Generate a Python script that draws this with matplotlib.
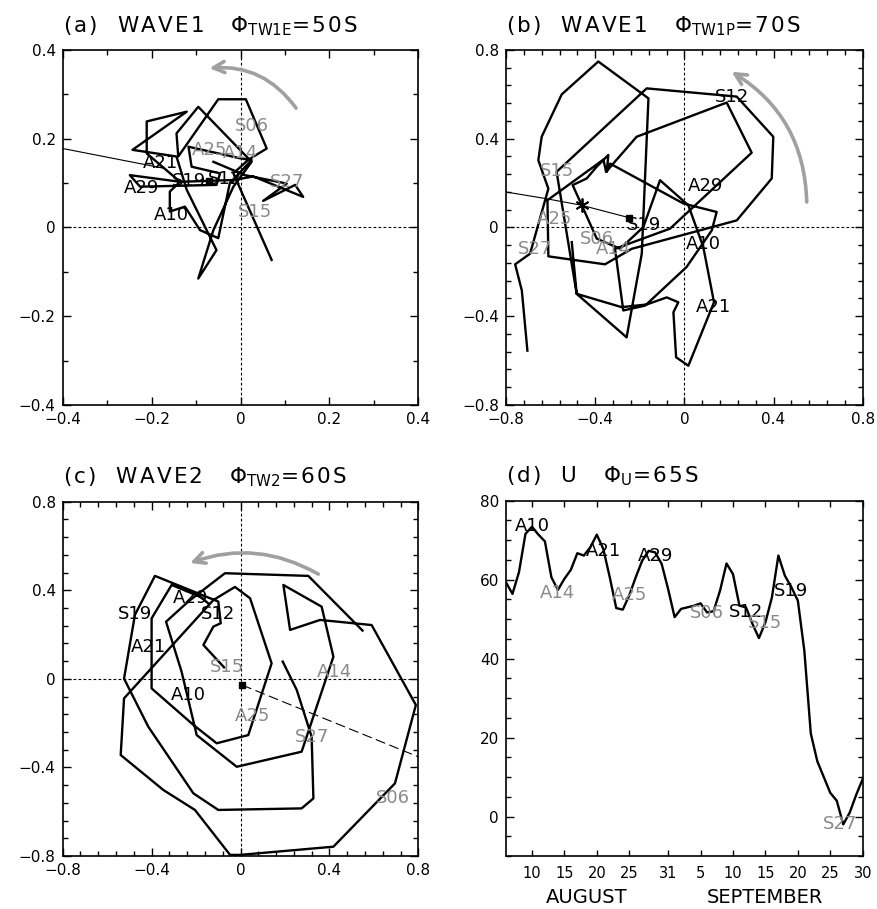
import numpy as np
import matplotlib
matplotlib.use("Agg")
import matplotlib.pyplot as plt
from matplotlib.ticker import MultipleLocator, FixedLocator

plt.rcParams["font.family"] = ["DejaVu Sans"]
plt.rcParams["mathtext.default"] = "regular"

nan = np.nan
GRAY = "#8a8a8a"
dark = {"A10", "A21", "A29", "S12", "S19"}

# ---- (a) wave1, 50S ----
a_x = [-0.061, 0.010, 0.104, 0.051, 0.123, 0.141, 0.029, -0.016, -0.136, -0.249,
       -0.226, -0.054, -0.046, -0.110, -0.117, -0.001, 0.025, -0.024, -0.050, -0.091,
       -0.125, -0.159, -0.159, -0.136, -0.211, -0.211, -0.121, -0.243, -0.144, -0.121,
       -0.054, -0.095, -0.061, -0.016, 0.025, -0.095, -0.144, -0.140, -0.050, 0.012,
       0.059, 0.018, -0.016, 0.070]
a_y = [0.148, 0.118, 0.099, 0.060, 0.096, 0.069, 0.115, 0.107, 0.103, 0.118,
       0.092, 0.096, 0.122, 0.137, 0.182, 0.156, 0.152, 0.100, -0.024, -0.006,
       0.047, 0.036, 0.081, 0.103, 0.167, 0.239, 0.261, 0.175, 0.160, 0.085,
       -0.051, -0.115, -0.006, 0.092, 0.148, 0.272, 0.212, 0.160, 0.289, 0.289,
       0.178, 0.153, 0.122, -0.073]
a_thin_x = [-0.4, -0.17]
a_thin_y = [0.178, 0.133]
a_square = (-0.07, 0.105)
a_lab = ["S06", "A25", "A14", "A21", "A29", "S19", "S12", "A10", "S27", "S15"]
a_lab_x = [0.025, -0.069, -0.001, -0.181, -0.222, -0.115, -0.035, -0.155, 0.104, 0.032]
a_lab_y = [0.229, 0.175, 0.167, 0.145, 0.090, 0.105, 0.110, 0.028, 0.103, 0.036]

# ---- (b) wave1, 70S ----
b_x = [-0.505, -0.483, -0.281, -0.169, -0.079, -0.027, -0.049, -0.037, 0.018, 0.133,
       0.085, 0.018, -0.109, -0.184, -0.288, -0.393, -0.460, -0.501, -0.438, -0.393,
       -0.341, -0.348, -0.333, -0.004, 0.145, 0.123, 0.010, -0.176, -0.274, -0.311,
       -0.064, 0.302, 0.190, -0.214, -0.351, -0.363, -0.614, -0.610, -0.356, -0.236,
       0.235, 0.392, 0.399, 0.235, -0.169, -0.573, -0.483, -0.259, -0.191, -0.161,
       -0.386, -0.550, -0.640, -0.655, -0.610, -0.692, -0.759, -0.729, -0.704]
b_y = [-0.066, -0.299, -0.359, -0.347, -0.315, -0.337, -0.382, -0.585, -0.623, -0.337,
       -0.088, 0.100, 0.213, 0.002, -0.096, -0.050, 0.100, 0.191, 0.221, 0.274,
       0.327, 0.251, 0.288, 0.108, 0.070, -0.013, -0.178, -0.352, -0.374, -0.096,
       -0.005, 0.337, 0.563, 0.409, 0.251, 0.306, 0.123, -0.130, -0.166, -0.096,
       0.032, 0.221, 0.409, 0.590, 0.627, 0.251, -0.299, -0.495, -0.118, 0.582,
       0.748, 0.600, 0.409, 0.303, 0.175, -0.118, -0.166, -0.284, -0.555]
b_thin_x = [-0.8, -0.62, -0.46, -0.247]
b_thin_y = [0.160, 0.130, 0.100, 0.044]
b_star = (-0.46, 0.100)
b_square = (-0.247, 0.044)
b_lab = ["S12", "A29", "A10", "A21", "S19", "S15", "A25", "S27", "S06", "A14"]
b_lab_x = [0.212, 0.093, 0.085, 0.130, -0.181, -0.573, -0.580, -0.670, -0.393, -0.318]
b_lab_y = [0.590, 0.186, -0.073, -0.359, 0.010, 0.255, 0.040, -0.096, -0.050, -0.096]

# ---- (c) wave2, 60S ----
c_x = [-0.074, -0.167, -0.122, -0.089, -0.100, -0.385, -0.475, -0.524, -0.415, -0.212,
       -0.100, 0.275, 0.328, 0.320, 0.253, 0.190, nan,
       0.549, 0.305, -0.070, -0.167, -0.235, -0.335, -0.265, -0.197, -0.017, 0.275,
       0.418, 0.365, 0.193, 0.223, 0.358, 0.590, 0.789, 0.695, 0.418, -0.002,
       -0.047, -0.205, -0.347, -0.539, -0.524, -0.122, -0.025, 0.043, 0.140, 0.035,
       -0.107, -0.212, -0.400, -0.400, -0.310, -0.182, -0.145]
c_y = [0.052, 0.153, 0.236, 0.251, 0.349, 0.465, 0.289, 0.001, -0.216, -0.517,
       -0.592, -0.585, -0.540, -0.261, -0.050, 0.078, nan,
       0.218, 0.465, 0.477, 0.402, 0.349, 0.258, 0.032, -0.254, -0.397, -0.329,
       0.100, 0.326, 0.424, 0.221, 0.266, 0.243, -0.118, -0.472, -0.758, -0.795,
       -0.795, -0.592, -0.502, -0.344, -0.088, 0.356, 0.415, 0.364, 0.070, -0.254,
       -0.291, -0.208, -0.043, 0.273, 0.424, 0.371, 0.341]
c_dash_x = [0.007, 0.8]
c_dash_y = [-0.028, -0.352]
c_square = (0.007, -0.028)
c_lab = ["A29", "S19", "S12", "A21", "A10", "S15", "A14", "A25", "S27", "S06"]
c_lab_x = [-0.227, -0.475, -0.100, -0.415, -0.235, -0.062, 0.425, 0.055, 0.320, 0.687]
c_lab_y = [0.364, 0.293, 0.293, 0.145, -0.073, 0.055, 0.032, -0.170, -0.261, -0.540]

# ---- (d) zonal wind, 65S (day 1 = 1 Aug) ----
d_day = list(range(6, 62))
d_u = [59.3, 56.4, 61.9, 71.6, 73.4, 71.4, 69.7, 60.6, 57.4, 60.2,
       62.5, 66.7, 66.1, 68.2, 71.4, 67.8, 60.6, 52.8, 52.4, 56.0,
       60.6, 64.8, 67.3, 66.9, 64.0, 57.6, 50.5, 52.6, 53.0, 53.4,
       54.0, 51.7, 52.0, 57.2, 64.1, 61.4, 53.4, 53.0, 48.8, 45.2,
       49.2, 55.5, 66.1, 61.0, 58.1, 54.7, 42.0, 21.0, 14.0, 10.0,
       6.0, 4.0, -2.0, 1.0, 5.5, 9.5]
d_lab = ["A10", "A14", "A21", "A25", "A29", "S06", "S12", "S15", "S19", "S27"]
d_lab_x = [10, 14, 21, 25, 29, 37, 43, 46, 50, 57.5]
d_lab_y = [73.6, 56.5, 67.3, 56.0, 66.0, 51.5, 51.7, 49.0, 57.2, -2.0]
d_tick_pos = [10, 15, 20, 25, 31, 36, 41, 46, 51, 56, 61]
d_tick_lab = ["10", "15", "20", "25", "31", "5", "10", "15", "20", "25", "30"]

W, H = 877, 909
fig = plt.figure(figsize=(W / 100, H / 100), dpi=100)


def add_ax(x0, y0, x1, y1):
    return fig.add_axes([x0 / W, 1 - y1 / H, (x1 - x0) / W, (y1 - y0) / H])


def style(ax):
    for s in ax.spines.values():
        s.set_linewidth(1.2)
    ax.tick_params(which="both", direction="in", top=True, right=True,
                   labelsize=11, width=1.0)
    ax.tick_params(which="major", length=6, pad=5)
    ax.tick_params(which="minor", length=3.5)


def phase_panel(ax, lim, major, minor, labels):
    ax.set_xlim(-lim, lim)
    ax.set_ylim(-lim, lim)
    ax.xaxis.set_major_locator(FixedLocator(major))
    ax.yaxis.set_major_locator(FixedLocator(major))
    ax.xaxis.set_minor_locator(MultipleLocator(minor))
    ax.yaxis.set_minor_locator(MultipleLocator(minor))
    ax.set_xticklabels(labels)
    ax.set_yticklabels(labels)
    ax.axhline(0, color="black", lw=0.8, ls=(0, (2.5, 2)))
    ax.axvline(0, color="black", lw=0.8, ls=(0, (2.5, 2)))
    style(ax)


def put_labels(ax, names, xs, ys):
    for n, x, y in zip(names, xs, ys):
        ax.text(x, y, n, ha="center", va="center", fontsize=13,
                color="black" if n in dark else GRAY)


def gray_arrow(ax, start, end, rad):
    ax.annotate("", xy=end, xytext=start,
                arrowprops=dict(arrowstyle="->,head_length=0.8,head_width=0.4",
                                connectionstyle=f"arc3,rad={rad}",
                                color="#a0a0a0", lw=2.6, shrinkA=0, shrinkB=0))


def spaced(s):
    # widen the lettering a little, like the original plotting package
    return "\u200a".join(s)


def title(ax, head, sub, tail):
    s = spaced(head) + "\u03a6$_{" + sub + "}$" + spaced(tail)
    ax.set_title(s, loc="left", fontsize=15.5, pad=13)


# (a)
ax = add_ax(62.7, 50, 418.3, 405)
phase_panel(ax, 0.4, [-0.4, -0.2, 0, 0.2, 0.4], 0.1,
            ["\u22120.4", "\u22120.2", "0", "0.2", "0.4"])
ax.plot(a_thin_x, a_thin_y, color="black", lw=0.8)
ax.plot(a_x, a_y, color="black", lw=1.7)
ax.plot(*a_square, marker="s", ms=4, color="black")
put_labels(ax, a_lab, a_lab_x, a_lab_y)
gray_arrow(ax, (0.125, 0.269), (-0.07, 0.359), 0.28)
title(ax, "(a)  WAVE1   ", "TW1E", "=50S")

# (b)
lab8 = ["\u22120.8", "\u22120.4", "0", "0.4", "0.8"]
ax = add_ax(506, 50, 862.7, 405)
phase_panel(ax, 0.8, [-0.8, -0.4, 0, 0.4, 0.8], 0.08, lab8)
ax.plot(b_thin_x, b_thin_y, color="black", lw=0.8)
ax.plot(b_x, b_y, color="black", lw=1.7)
ax.plot(*b_star, marker=(6, 2, 0), ms=10, mew=1.3, color="black")
ax.plot(*b_square, marker="s", ms=5, color="black")
put_labels(ax, b_lab, b_lab_x, b_lab_y)
gray_arrow(ax, (0.549, 0.115), (0.212, 0.702), 0.27)
title(ax, "(b)  WAVE1   ", "TW1P", "=70S")

# (c)
ax = add_ax(62.7, 501.7, 418.3, 856)
phase_panel(ax, 0.8, [-0.8, -0.4, 0, 0.4, 0.8], 0.08, lab8)
ax.plot(c_dash_x, c_dash_y, color="black", lw=0.8, ls=(0, (9, 4)))
ax.plot(c_x, c_y, color="black", lw=1.7)
ax.plot(*c_square, marker="s", ms=5, color="black")
put_labels(ax, c_lab, c_lab_x, c_lab_y)
gray_arrow(ax, (0.35, 0.473), (-0.227, 0.523), 0.23)
title(ax, "(c)  WAVE2   ", "TW2", "=60S")

# (d)
ax = add_ax(506, 500.7, 862.7, 856)
ax.plot(d_day, d_u, color="black", lw=1.7)
ax.set_xlim(6, 61)
ax.set_ylim(-10, 80)
ax.set_xticks(d_tick_pos)
ax.set_xticklabels(d_tick_lab)
ax.xaxis.set_minor_locator(FixedLocator([31]))
ax.yaxis.set_major_locator(MultipleLocator(20))
ax.yaxis.set_minor_locator(MultipleLocator(5))
style(ax)
ax.tick_params(axis="x", which="major", length=4, pad=7, labelsize=10.5)
ax.tick_params(axis="x", which="minor", length=9)
put_labels(ax, d_lab, d_lab_x, d_lab_y)
tr = ax.get_xaxis_transform()
ax.text(18.4, -0.118, "AUGUST", transform=tr, ha="center", va="center", fontsize=14)
ax.text(45.9, -0.118, "SEPTEMBER", transform=tr, ha="center", va="center", fontsize=14)
title(ax, "(d)  U   ", "U", "=65S")

fig.savefig("out.png", dpi=100)
